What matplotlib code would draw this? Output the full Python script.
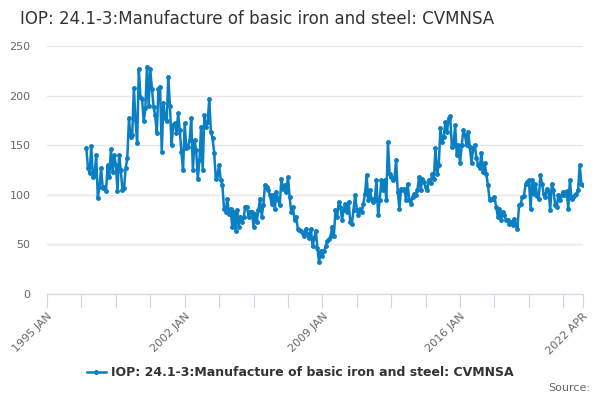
import numpy as np
import matplotlib
matplotlib.use("Agg")
import matplotlib.pyplot as plt

# monthly index values, 1997 JAN .. 2022 APR
vals_1997_2001 = [147, 127, 122, 149, 118, 120, 140, 97, 108, 127, 107, 108, 104, 130, 118, 146,
                  123, 140, 130, 104, 140, 125, 105, 107, 127, 137, 177, 158, 160, 208, 175, 152,
                  227, 199, 197, 174, 187, 229, 190, 227, 207, 189, 180, 162, 207, 209, 143, 193,
                  177, 174, 219, 190, 150, 170]
vals_2001_2006 = [172, 162, 182, 165, 143, 125, 172, 147, 148, 155, 177, 125, 155, 145, 116, 135,
                  168, 125, 180, 168, 173, 197, 163, 157, 142, 116, 120, 130, 115, 110, 86, 83,
                  96, 81, 86, 68, 83, 64, 85, 68, 78, 73, 78, 88, 88, 78, 83, 83, 68, 81,
                  73, 85, 96, 78, 90, 110, 108, 105, 100, 91]
vals_2006_2011 = [100, 86, 103, 95, 90, 116, 106, 110, 103, 118, 98, 83, 88, 75, 78, 66,
                  65, 64, 61, 58, 66, 60, 56, 66, 48, 56, 64, 46, 32, 43, 38, 43,
                  48, 53, 55, 58, 68, 58, 85, 78, 93, 88, 75, 85, 91, 83, 93, 73,
                  71, 85, 100, 85, 80, 86, 83, 91, 101]
vals_2011_2016 = [120, 95, 105, 96, 93, 95, 115, 80, 95, 115, 105, 115, 95, 153, 121, 118,
                  115, 117, 135, 103, 86, 106, 105, 106, 95, 111, 95, 91, 98, 101, 100, 105,
                  118, 105, 116, 113, 108, 105, 115, 112, 121, 116, 147, 121, 130, 167, 153, 158,
                  173, 163, 177, 179, 148, 150, 170, 140, 150, 132, 150, 165]
vals_2016_2022 = [160, 150, 163, 148, 132, 147, 150, 137, 130, 127, 142, 123, 132, 121, 110, 95,
                  96, 96, 98, 88, 78, 86, 75, 83, 80, 75, 75, 71, 73, 70, 76, 70,
                  66, 90, 91, 98, 99, 111, 113, 115, 86, 115, 101, 111, 99, 96, 120, 111,
                  101, 98, 106, 103, 85, 111, 105, 90, 88, 100, 95, 100, 103, 100, 104, 86,
                  115, 96, 98, 100, 101, 105, 130, 111, 110]

values = vals_1997_2001 + vals_2001_2006 + vals_2006_2011 + vals_2011_2016 + vals_2016_2022
series_name = "IOP: 24.1-3:Manufacture of basic iron and steel: CVMNSA"

start_offset = 24  # months from 1995 JAN to 1997 JAN
months = np.arange(len(values)) + start_offset
x_end = 27 * 12 + 3  # 2022 APR

tick_pos = list(range(0, x_end, 21)) + [x_end]
tick_lab = ["" for _ in tick_pos]
tick_lab[0] = "1995 JAN"
tick_lab[4] = "2002 JAN"
tick_lab[8] = "2009 JAN"
tick_lab[12] = "2016 JAN"
tick_lab[-1] = "2022 APR"

fig = plt.figure(figsize=(6, 4), dpi=100)
ax = fig.add_axes([47 / 600, 1 - 294 / 400, (583 - 47) / 600, (294 - 46) / 400])

line_col = "#0b7fc4"
ax.plot(months, values, color=line_col, lw=1.8, marker="o", ms=2.5, mec=line_col, mfc=line_col,
        label=series_name, zorder=3)

ax.set_xlim(0, x_end)
ax.set_ylim(0, 250)
ax.set_yticks([0, 50, 100, 150, 200, 250])
ax.yaxis.grid(True, color="#e6e6e6", lw=1)
ax.set_axisbelow(True)
for s in ["top", "right", "left"]:
    ax.spines[s].set_visible(False)
ax.spines["bottom"].set_color("#ccd6eb")
ax.tick_params(axis="y", length=0, labelsize=8, labelcolor="#666666", pad=12)

ax.set_xticks(tick_pos)
ax.set_xticklabels(tick_lab, rotation=45, ha="right", rotation_mode="anchor")
ax.tick_params(axis="x", length=10, color="#ccd6eb", labelsize=8, labelcolor="#666666", pad=2)

fig.text(20 / 600, 1 - 19 / 400, series_name, fontsize=12, color="#333333", va="center", ha="left")

leg = fig.legend(loc="center", bbox_to_anchor=(0.5, 1 - 373 / 400), frameon=False,
                 prop={"size": 9, "weight": "bold"}, handlelength=1.5, handletextpad=0.4)
for t in leg.get_texts():
    t.set_color("#333333")

fig.text(590 / 600, 1 - 388 / 400, "Source:", fontsize=8, color="#666666", ha="right", va="center")

fig.savefig("out.png", dpi=100)
